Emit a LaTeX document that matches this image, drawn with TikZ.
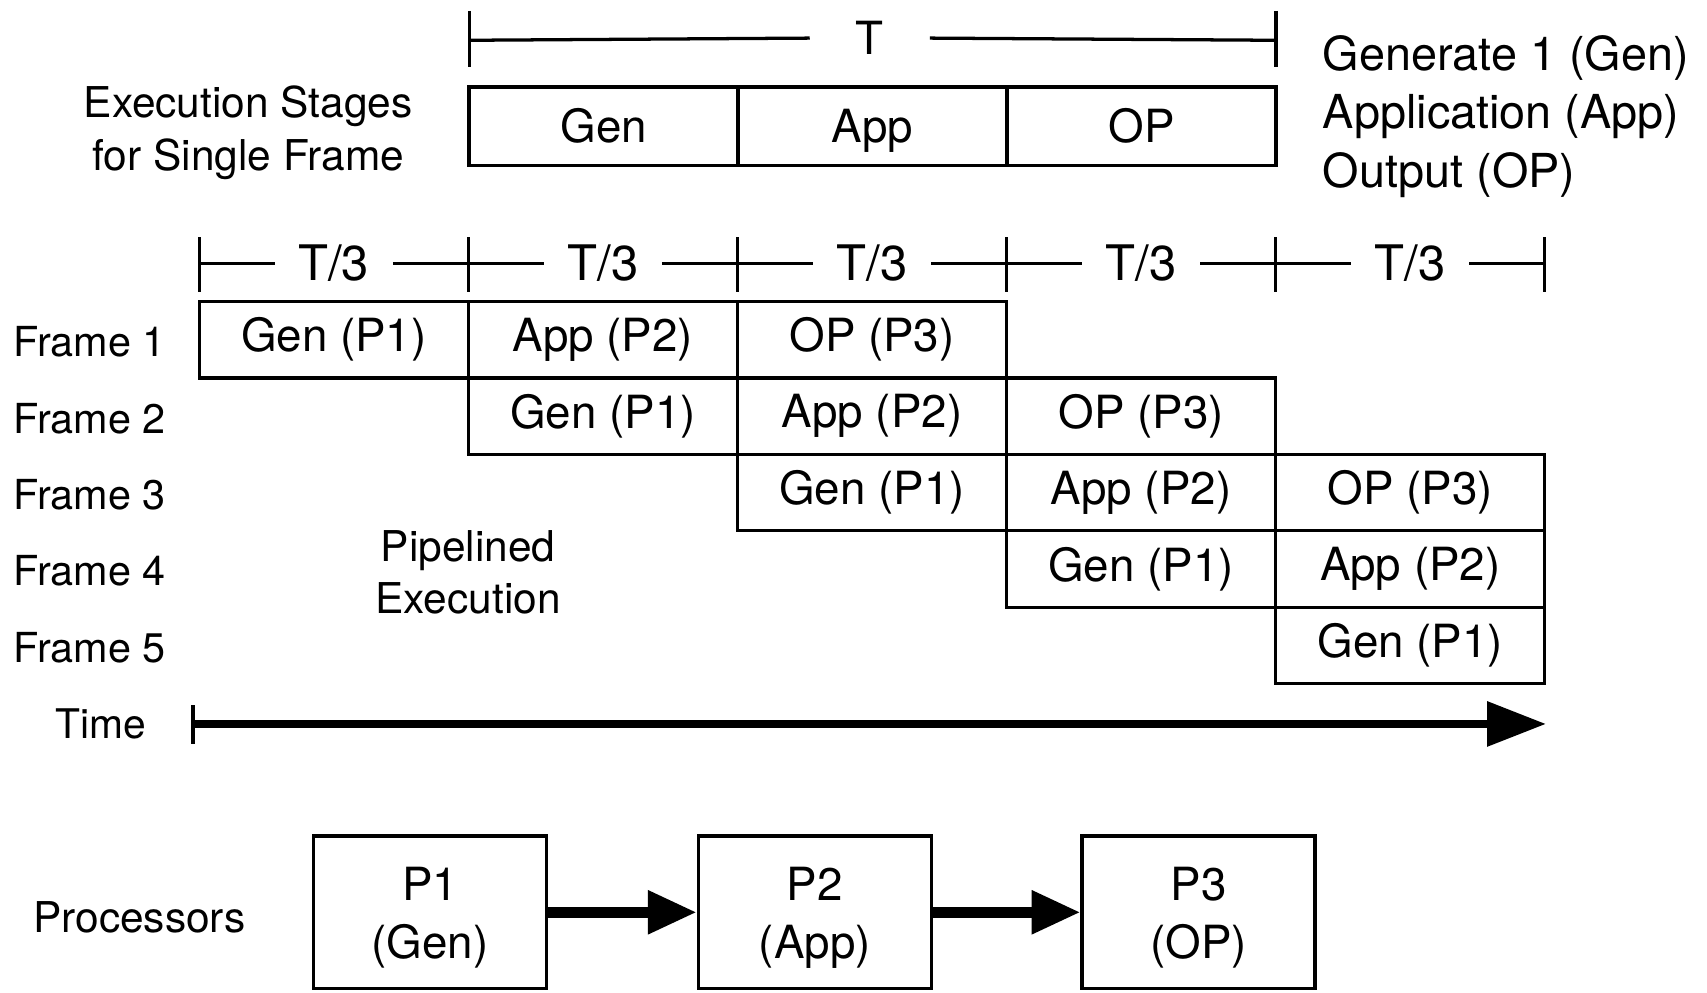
\documentclass[tikz,border=0pt]{standalone}
\usepackage{fontspec}
\setmainfont{TeX Gyre Heros}
\usetikzlibrary{arrows.meta}

\tikzset{
  lbl/.style={inner sep=0pt, font=\fontsize{39}{48}\selectfont},
  stagebox/.style={draw, line width=3pt, minimum width=247.2pt, minimum height=72pt,
    inner sep=0pt, text height=30pt, text depth=0pt, font=\fontsize{42}{50}\selectfont},
  cell/.style={draw, line width=3pt, minimum width=247.2pt, minimum height=70.2pt,
    inner sep=0pt, font=\fontsize{42}{50}\selectfont},
  procbox/.style={draw, line width=3pt, minimum width=214pt, minimum height=140pt,
    inner sep=0pt},
  proctext/.style={inner sep=0pt, align=center, font=\fontsize{42}{54}\selectfont},
  barline/.style={line width=3pt},
  tickmark/.style={line width=3pt},
  spanlabel/.style={inner sep=0pt, minimum width=108pt, font=\fontsize{45}{50}\selectfont},
  flowarrow/.style={line width=10pt, -{Triangle[length=45pt,width=38pt]}},
  timearrow/.style={line width=7pt, -{Triangle[length=54pt,width=40pt]}}
}

\begin{document}
\begin{tikzpicture}[x=1pt,y=-1pt]
\useasboundingbox (0,0) rectangle (1568,912);

% ---- single frame: total period T ----
\coordinate (tL) at (431,37);
\coordinate (tR) at (1172,37);
\draw[tickmark] (431,10) -- (431,62);
\draw[tickmark] (1172,10) -- (1172,62);
\node[inner sep=0pt, minimum width=110pt, font=\fontsize{42}{50}\selectfont] (tT) at (799,35) {T};
\draw[barline] (tL) -- (tT.west);
\draw[barline] (tT.east) -- (tR);

% ---- stages of one frame ----
\node[stagebox] (sGen) at (554.5,116) {Gen};
\node[stagebox] (sApp) at (801.5,116) {App};
\node[stagebox] (sOP)  at (1048.5,116) {OP};

\node[lbl, align=center] (stagesLbl) at (228,122) {Execution Stages\\for Single Frame};

\node[inner sep=0pt, anchor=west, align=left, font=\fontsize{43}{53.5}\selectfont]
  (legend) at (1215,107) {Generate 1 (Gen)\\Application (App)\\Output (OP)};

% ---- T/3 time slots ----
\foreach \k in {0,...,5}{
  \draw[tickmark] ({183+247.2*\k},218) -- ({183+247.2*\k},268);
  \coordinate (tick\k) at ({183+247.2*\k},242);
}
\foreach \k [evaluate=\k as \n using int(\k+1)] in {0,...,4}{
  \node[spanlabel] (slot\k) at ({183+247.2*(\k+0.5)},242) {T/3};
  \draw[barline] (tick\k) -- (slot\k.west|-tick\k);
  \draw[barline] (slot\k.east|-tick\k) -- (tick\n);
}

% ---- pipelined execution grid ----
\foreach \r/\k/\t in {1/0/Gen (P1), 1/1/App (P2), 1/2/OP (P3),
                      2/1/Gen (P1), 2/2/App (P2), 2/3/OP (P3),
                      3/2/Gen (P1), 3/3/App (P2), 3/4/OP (P3),
                      4/3/Gen (P1), 4/4/App (P2),
                      5/4/Gen (P1)}{
  \node[cell] (c\r-\k) at ({183+247.2*(\k+0.5)},{277+70.2*(\r-0.5)}) {\t};
}

\foreach \r in {1,...,5}{
  \node[inner sep=0pt, anchor=west, font=\fontsize{38}{46}\selectfont]
    (frame\r) at (12,{279+70.2*(\r-0.5)}) {Frame \r};
}

\node[lbl, align=center] (pipeLbl) at (430,526) {Pipelined\\Execution};

% ---- time axis ----
\node[inner sep=0pt, font=\fontsize{37.5}{45}\selectfont] (timeLbl) at (93,665) {Time};
\coordinate (tStart) at (177,665);
\coordinate (tEnd) at (1420,665);
\draw[line width=4pt] (177,648) -- (177,683);
\draw[timearrow] (tStart) -- (tEnd);

% ---- processors ----
\node[lbl] (procLbl) at (128,843) {Processors};
\foreach \i/\x/\t in {1/395/Gen, 2/748.5/App, 3/1101/OP}{
  \node[procbox] (p\i) at (\x,838) {};
  \node[proctext] (p\i txt) at (\x,843) {P\i\\(\t)};
}
\draw[flowarrow] (p1.east) -- (p2.west);
\draw[flowarrow] (p2.east) -- (p3.west);
\end{tikzpicture}
\end{document}
